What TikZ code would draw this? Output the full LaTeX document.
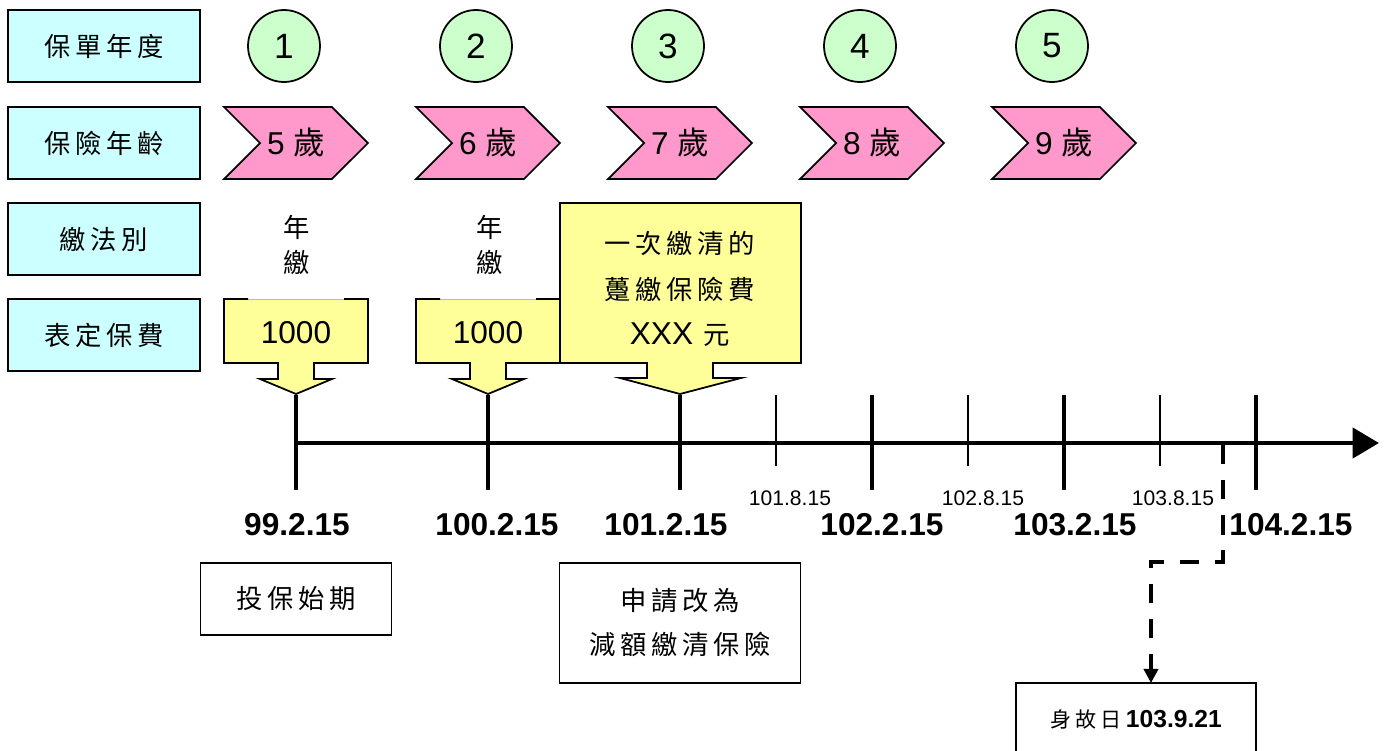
\documentclass[tikz,border=0pt]{standalone}
\usepackage{fontspec}
\setmainfont{Liberation Sans}
\newfontfamily\cjk[LetterSpace=18]{Noto Sans CJK TC}
\usepackage{tikz}
\usetikzlibrary{arrows.meta}
\usetikzlibrary{shapes.symbols}
\usetikzlibrary{positioning}
\definecolor{LabelCyan}{RGB}{204,255,255}
\definecolor{YearGreen}{RGB}{204,255,204}
\definecolor{AgePink}{RGB}{255,153,204}
\definecolor{FeeYellow}{RGB}{255,255,153}
\definecolor{FeeEdge}{RGB}{190,190,120}
\tikzstyle{rowlabel} = [draw, line width=1pt, fill=LabelCyan, minimum width=3.84cm, minimum height=1.44cm, font=\fontsize{15}{18}\cjk]
\tikzstyle{yearcircle} = [draw, circle, line width=1pt, fill=YearGreen, minimum size=1.44cm, inner sep=0pt, font=\fontsize{20}{22}\selectfont]
\tikzstyle{agechevron} = [draw, signal, signal from=west, signal to=east, signal pointer angle=90, line width=1pt, fill=AgePink, minimum width=2.88cm, minimum height=1.44cm, inner sep=0pt, font=\fontsize{18}{20}\selectfont]
\tikzstyle{paynote} = [align=center, font=\fontsize{15}{20}\cjk]
\tikzstyle{feeline} = [line width=1pt, fill=FeeYellow]
\tikzstyle{feetext} = [font=\fontsize{18}{20}\selectfont]
\tikzstyle{majortick} = [line width=2.8pt]
\tikzstyle{minortick} = [line width=1.1pt]
\tikzstyle{bigdate} = [font=\fontsize{18}{20}\selectfont\bfseries]
\tikzstyle{smalldate} = [font=\fontsize{12}{14}\selectfont]
\tikzstyle{notebox} = [draw, line width=0.8pt, align=center, font=\fontsize{15}{25}\cjk]
\tikzstyle{deathline} = [line width=2.8pt, dash pattern=on 11pt off 9pt, -{Triangle[length=8pt, width=8pt]}]

\begin{document}
\begin{tikzpicture}[x=0.02cm, y=-0.02cm]
\useasboundingbox (0,0) rectangle (1384,751);
\clip (0,0) rectangle (1384,751);

% row labels
\node[rowlabel] (policyyear) at (104,46) {保單年度};
\node[rowlabel] (insage) at (104,143) {保險年齡};
\node[rowlabel] (paymode) at (104,239) {繳法別};
\node[rowlabel] (tablefee) at (104,335) {表定保費};

% policy years and ages
\foreach \i [evaluate=\i as \a using {int(\i+4)}] in {1,...,5} {
  \node[yearcircle] (year\i) at ({284+192*(\i-1)},46) {\i};
  \node[agechevron] (age\i) at ({296+192*(\i-1)},143) {\a\ {\cjk 歲}};
}

% annual payments
\node[paynote] (pay1) at (297,245) {年\\繳};
\node[paynote] (pay2) at (490,245) {年\\繳};

\foreach \cx/\nm in {296/fee1, 488/fee2} {
  \fill[FeeYellow] (\cx-72,299) -- (\cx-72,363) -- (\cx-18,363) -- (\cx-18,379) -- (\cx-36,379) -- (\cx,394)
    -- (\cx+36,379) -- (\cx+18,379) -- (\cx+18,363) -- (\cx+72,363) -- (\cx+72,299) -- cycle;
  \draw[FeeEdge, line width=0.5pt] (\cx-72,299) -- (\cx+72,299);
  \draw[line width=1pt, line join=miter] (\cx-48,299) -- (\cx-72,299) -- (\cx-72,363) -- (\cx-18,363) -- (\cx-18,379) -- (\cx-36,379) -- (\cx,394)
    -- (\cx+36,379) -- (\cx+18,379) -- (\cx+18,363) -- (\cx+72,363) -- (\cx+72,299) -- (\cx+48,299);
  \node[feetext] (\nm) at (\cx,333) {1000};
}

% single premium
\draw[feeline] (560,203) -- (560,363) -- (647,363) -- (647,378) -- (620,378) -- (680,394) -- (741,378)
  -- (713,378) -- (713,363) -- (801,363) -- (801,203) -- cycle;
\node[paynote, font=\fontsize{15}{26}\cjk] (fee3) at (680,289) {一次繳清的\\躉繳保險費\\{\fontsize{18}{26}\rmfamily XXX} 元};

% time axis
\coordinate (axisstart) at (296,443);
\coordinate (axisend) at (1379,443);
\draw[line width=2.8pt, -{Triangle[length=15pt, width=17pt]}] (axisstart) -- (axisend);
\foreach \i in {0,...,5}
  \draw[majortick] ({296+192*\i},395) -- ({296+192*\i},490);
\foreach \i in {0,...,2}
  \draw[minortick] ({776+192*\i},395) -- ({776+192*\i},466);

\node[bigdate] (d99) at (297,525) {99.2.15};
\node[bigdate] (d100) at (497,525) {100.2.15};
\node[bigdate] (d101) at (666,525) {101.2.15};
\node[bigdate] (d102) at (882,525) {102.2.15};
\node[bigdate] (d103) at (1075,525) {103.2.15};
\node[bigdate] (d104) at (1291,525) {104.2.15};
\node[smalldate] (h101) at (790,498) {101.8.15};
\node[smalldate] (h102) at (983,498) {102.8.15};
\node[smalldate] (h103) at (1173,498) {103.8.15};

% notes
\node[notebox, minimum width=3.82cm, minimum height=1.44cm] (start) at (296,599) {投保始期};
\node[notebox, minimum width=4.82cm, minimum height=2.4cm] (reduced) at (680,623) {申請改為\\減額繳清保險};
\node[draw, line width=0.8pt, minimum width=4.8cm, minimum height=1.44cm] (death) at (1136,719)
  {{\fontsize{12}{14}\cjk 身故日} {\fontsize{14}{16}\selectfont\bfseries 103.9.21}};

% date of death
\coordinate (deathmark) at (1223,445);
\coordinate (deathbend) at (1223,562);
\coordinate (deathin) at (1151,683);
\draw[deathline] (deathmark) -- (deathbend) -| (deathin);
\end{tikzpicture}
\end{document}
